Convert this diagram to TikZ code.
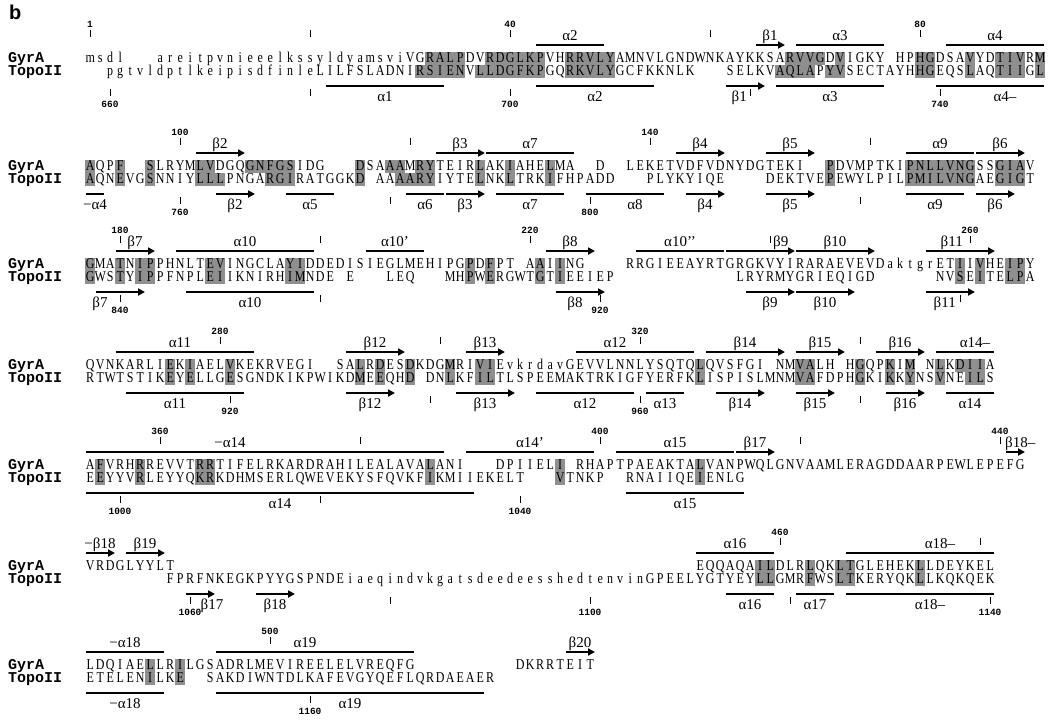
\documentclass[tikz,border=0pt]{standalone}
\usepackage{fontspec}
\setmainfont{Liberation Serif}
\newfontfamily\seqf[FakeStretch=0.8]{Liberation Serif}
\newfontfamily\monof{Liberation Mono}
\newfontfamily\sansf{Liberation Sans}
\usetikzlibrary{arrows.meta}
\definecolor{shd}{gray}{0.56}
\newlength\cw
\setlength\cw{10pt}
\newif\ifshd
\def\sq#1{\shdfalse\sqA#1\relax}
\def\sqA#1{\ifx\relax#1\else\sqB#1\expandafter\sqA\fi}
\def\sqB#1{\if[#1\shdtrue\else\if]#1\shdfalse\else\if.#1\hbox to\cw{}\else\sqC#1\fi\fi\fi}
\def\sqC#1{\ifshd\rlap{\color{shd}\vrule width\cw height 10.5pt depth 2.5pt}\fi\hbox to\cw{\hss#1\hss}}
\newcounter{nd}
\tikzset{
  seqn/.style={anchor=base west,inner sep=0pt,font=\seqf\fontsize{15}{15}\selectfont},
  hbar/.style={line width=2.2pt},
  sarr/.style={line width=2pt,-{Triangle[length=7pt,width=7pt]}},
  tickl/.style={line width=0.8pt},
  lbl/.style={font=\fontsize{15}{15}\selectfont,inner sep=0pt},
  num/.style={font=\monof\bfseries\fontsize{9.5}{9.5}\selectfont,inner sep=0pt},
  rowlbl/.style={font=\monof\bfseries\fontsize{15}{15}\selectfont,inner sep=0pt,anchor=base west}
}
\newcommand\seqat[3]{\stepcounter{nd}\node[seqn] (s\arabic{nd}) at ({85+10*(#1)},{#2}) {\sq{#3}};}
\newcommand\rG[3]{\seqat{#2}{#1+4.5}{#3}}
\newcommand\rT[3]{\seqat{#2}{#1+17.5}{#3}}
\newcommand\rowlabels[1]{\stepcounter{nd}\node[rowlbl] (g\arabic{nd}) at (8,{#1+4.5}) {GyrA};\node[rowlbl] (t\arabic{nd}) at (8,{#1+17.5}) {TopoII};}
% upper helix / strand: [offset]{g}{c1}{c2}{label}
\newcommand\uH[5][0]{\draw[hbar] ({86+10*(#3)},{#2-13}) -- ({94+10*(#4)},{#2-13});\stepcounter{nd}\node[lbl,anchor=base] (a\arabic{nd}) at ({85+5*((#3)+(#4)+1)+(#1)},{#2-18}) {#5};}
\newcommand\uS[5][0]{\draw[sarr] ({86+10*(#3)},{#2-13}) -- ({95+10*(#4)},{#2-13});\stepcounter{nd}\node[lbl,anchor=base] (a\arabic{nd}) at ({85+5*((#3)+(#4)+1)+(#1)},{#2-18}) {#5};}
\newcommand\lH[5][0]{\draw[hbar] ({86+10*(#3)},{#2+28}) -- ({94+10*(#4)},{#2+28});\stepcounter{nd}\node[lbl,anchor=base] (a\arabic{nd}) at ({85+5*((#3)+(#4)+1)+(#1)},{#2+43}) {#5};}
\newcommand\lS[5][0]{\draw[sarr] ({86+10*(#3)},{#2+28}) -- ({95+10*(#4)},{#2+28});\stepcounter{nd}\node[lbl,anchor=base] (a\arabic{nd}) at ({85+5*((#3)+(#4)+1)+(#1)},{#2+43}) {#5};}
% ticks and numbers: {g}{col}{number}
\newcommand\uN[3]{\draw[tickl] ({90+10*(#2)},{#1-28}) -- ({90+10*(#2)},{#1-21});\stepcounter{nd}\node[num,anchor=base] (n\arabic{nd}) at ({90+10*(#2)},{#1-31}) {#3};}
\newcommand\uT[2]{\draw[tickl] ({90+10*(#2)},{#1-28}) -- ({90+10*(#2)},{#1-21});}
\newcommand\lN[3]{\draw[tickl] ({90+10*(#2)},{#1+31}) -- ({90+10*(#2)},{#1+38});\stepcounter{nd}\node[num,anchor=base] (n\arabic{nd}) at ({90+10*(#2)},{#1+49}) {#3};}
\newcommand\lT[2]{\draw[tickl] ({90+10*(#2)},{#1+31}) -- ({90+10*(#2)},{#1+38});}
\begin{document}
\begin{tikzpicture}[x=1pt,y=-1pt]
\useasboundingbox (0,0) rectangle (1057,721);
\fill[white] (0,0) rectangle (1057,721);
\node[font=\sansf\bfseries\fontsize{20}{20}\selectfont,anchor=base west,inner sep=0pt] (blabel) at (9,19) {b};
% ---------------- block 1
\rowlabels{58}
\rG{58}{0}{msdl...areitpvnieeelkssyldyamsviVG[RALP]DV[RDGLKP]VH[RRVLY]AMNVLGNDWNKAYKKSA[RVVG]D[V]IGKY.HP[HG]DSA[V]YD[TIV]R[M]}
\rT{58}{0}{..pgtvldptlkeipisdfinleLILFSLADNI[RSIEN]V[LLDGFKP]GQ[RKVLY]GCFKKNLK...SELKV[AQLA]P[YV]SECTAYH[HG]EQS[L]AQ[TII]G[L]}
\uN{58}{0}{1}\uT{58}{22}\uN{58}{42}{40}\uH{58}{45}{51}{α2}\uT{58}{62}\uS{58}{67}{69}{β1}\uH{58}{71}{79}{α3}\uN{58}{83}{80}\uH{58}{86}{95}{α4}
\lN{58}{2}{660}\lT{58}{22}\lH{58}{24}{35}{α1}\lN{58}{42}{700}\lH{58}{45}{56}{α2}\lS{58}{64}{67}{}\lT{58}{66}
\node[lbl,anchor=base east] (b1lo) at (747,101) {β1};
\lH{58}{69}{79}{α3}\lN{58}{85}{740}\lH[15]{58}{85}{95}{α4–}
% ---------------- block 2
\rowlabels{166}
\rG{166}{0}{[A]QP[F]..[S]LRYM[LV]DGQ[GNFGS]IDG...[D]SA[AA]M[RY]TEIR[L]AK[I]AHE[L]MA..D..LEKETVDFVDNYDGTEKI..[P]DVMPTKI[PNLLVNG]SS[GIA]V}
\rT{166}{0}{[A]QN[E]VG[S]NNIY[LLL]PNGA[RGI]RATGGK[D].AA[AA][RY]IYTE[L]NK[L]TRK[I]FHPADD...PLYKYIQE....DEKTVE[P]EWYLPIL[PMILVNG]AE[GIG]T}
\uN{166}{9}{100}\uS{166}{11}{15}{β2}\uT{166}{32}\uS{166}{35}{39}{β3}\uH{166}{40}{48}{α7}\uN{166}{56}{140}\uS{166}{59}{63}{β4}\uS{166}{68}{72}{β5}\uT{166}{78}\uH{166}{82}{88}{α9}\uS{166}{89}{93}{β6}
\lH{166}{0}{1}{−α4}\lN{166}{9}{760}\lS{166}{13}{16}{β2}\lH{166}{20}{24}{α5}\lT{166}{30}\lH{166}{32}{35}{α6}\lS{166}{36}{39}{β3}\lH{166}{41}{47}{α7}\lN{166}{50}{800}\lH[10]{166}{50}{57}{α8}\lS{166}{60}{63}{β4}\lS{166}{68}{72}{β5}\lT{166}{77}\lH{166}{82}{87}{α9}\lS{166}{89}{92}{β6}
% ---------------- block 3
\rowlabels{264}
\rG{264}{0}{[G]MA[T]N[IP]PHNLT[EV]INGCLA[YI]DDEDISIEGLMEHIPG[P]D[F]PT.A[A]I[I]NG....RRGIEEAYRTGRGKVYIRARAEVEVDaktgrET[I]I[V]HE[IP]Y}
\rT{264}{0}{[G]WS[T]Y[IP]PFNPL[EI]IKNIRH[IM]NDE.E...LEQ...MH[P]W[E]RGWT[G]T[I]EEIEP}
\rT{264}{65}{LRYRMYGRIEQIGD}
\rT{264}{85}{NV[S]E[I]TE[LP]A}
\uN{264}{3}{180}\uS{264}{3}{6}{β7}\uH{264}{9}{22}{α10}\uT{264}{23}\uH{264}{28}{33}{α10’}\uN{264}{44}{220}\uS{264}{46}{50}{β8}\uH{264}{55}{63}{α10’’}\uS{264}{64}{70}{}\uT{264}{68}
\node[lbl,anchor=base west] (b9up) at (773,246) {β9};
\uS{264}{71}{78}{β10}\uS{264}{84}{90}{}
\node[lbl,anchor=base east] (b11up) at (963,246) {β11};
\uN{264}{88}{260}
\lS[-20]{264}{1}{5}{β7}\lN{264}{3}{840}\lH{264}{10}{22}{α10}\lT{264}{23}\lS[-5]{264}{47}{51}{β8}\lN{264}{51}{920}\lS{264}{66}{70}{β9}\lS{264}{71}{76}{β10}\lS{264}{84}{88}{}\lT{264}{87}
\node[lbl,anchor=base east] (b11lo) at (956,307) {β11};
% ---------------- block 4
\rowlabels{365}
\rG{365}{0}{QVNKARLI[E]K[I]AEL[V]KEKRVEGI..SA[L]R[D]ES[D]KDG[M]RI[VI]EvkrdavGEVVLNNLYSQTQ[L]QVSFGI.NM[VA]LH.H[G]QP[K]I[M].N[L]K[DII]A}
\rT{365}{0}{RTWTSTIK[E]Y[E]LLG[E]SGNDKIKPWIKD[M]E[E]QH[D].DN[L]KF[IL]TLSPEEMAKTRKIGFYERFK[L]ISPISLMNM[VA]FDPH[G]KI[K]K[Y]NS[V]NE[IL]S}
\uH[-5]{365}{3}{16}{α11}\uN{365}{13}{280}\uS{365}{26}{31}{β12}\uT{365}{35}\uS{365}{38}{41}{β13}\uH[-20]{365}{49}{60}{α12}\uN{365}{55}{320}\uS{365}{62}{69}{β14}\uS{365}{71}{75}{β15}\uT{365}{77}\uS{365}{79}{83}{β16}\uH[10]{365}{85}{90}{α14–}
\lH[-10]{365}{4}{15}{α11}\lN{365}{14}{920}\lS{365}{26}{30}{β12}\lT{365}{34}\lS{365}{37}{42}{β13}\lH{365}{45}{54}{α12}\lN{365}{55}{960}\lH{365}{56}{59}{α13}\lS{365}{63}{67}{β14}\lS{365}{71}{74}{β15}\lT{365}{77}\lS{365}{80}{83}{β16}\lH{365}{86}{90}{α14}
% ---------------- block 5
\rowlabels{465}
\rG{465}{0}{A[F]VRH[R]REVVT[RR]TIFELRKARDRAHILEALAVA[L]ANI...DPIIEL[I].RHAPTPAEAKTA[L]VANPWQLGNVAAMLERAGDDAARPEWLEPEFG}
\rT{465}{0}{E[E]YYV[R]LEYYQ[KR]KDHMSERLQWEVEKYSFQVKF[I]KMIIEKELT...[V]TNKP..RNAIIQE[I]ENLG}
\uH[-35]{465}{0}{35}{−α14}\uN{465}{7}{360}\uT{465}{27}\uH{465}{38}{50}{α14’}\uN{465}{51}{400}\uH{465}{53}{64}{α15}\uS{465}{65}{68}{β17}\uT{465}{71}\uN{465}{91}{440}\uS{465}{92}{93}{}
\node[lbl,anchor=base west] (b18up) at (1005,447) {β18–};
\lH{465}{0}{38}{α14}\lN{465}{3}{1000}\lT{465}{23}\lN{465}{43}{1040}\lH{465}{54}{65}{α15}
% ---------------- block 6
\rowlabels{566}
\rG{566}{0}{VRDGLYYLT}
\rG{566}{61}{EQQAQA[IL]DLR[L]QK[LT]GLEHEK[L]LDEYKEL}
\rT{566}{8}{FPRFNKEGKPYYGSPNDEiaeqindvkgatsdeedeesshedtenvinGPEELYGTYEY[LL]GMR[F]WS[LT]KERYQK[L]LKQKQEK}
\uS{566}{0}{2}{−β18}\uS{566}{4}{7}{β19}\uH{566}{61}{68}{α16}\uN{566}{69}{460}\uH[20]{566}{76}{90}{α18–}\uT{566}{89}
\lS[12]{566}{10}{12}{β17}\lN{566}{10}{1060}\lS{566}{17}{20}{β18}\lT{566}{30}\lN{566}{50}{1100}\lH{566}{64}{68}{α16}\lT{566}{70}\lH{566}{71}{74}{α17}\lH[10]{566}{76}{90}{α18–}\lN{566}{90}{1140}
% ---------------- block 7
\rowlabels{665}
\rG{665}{0}{LDQIAE[L]LR[I]LGSADRLMEVIREELELVREQFG}
\rG{665}{43}{DKRRTEIT}
\rT{665}{0}{ETELEN[I]LK[E]}
\rT{665}{12}{SAKDIWNTDLKAFEVGYQEFLQRDAEAER}
\uH{665}{0}{7}{−α18}\uN{665}{18}{500}\uH[-10]{665}{13}{32}{α19}\uS{665}{48}{50}{β20}
\lH{665}{0}{7}{−α18}\lH{665}{13}{39}{α19}\lN{665}{22}{1160}
\end{tikzpicture}
\end{document}
